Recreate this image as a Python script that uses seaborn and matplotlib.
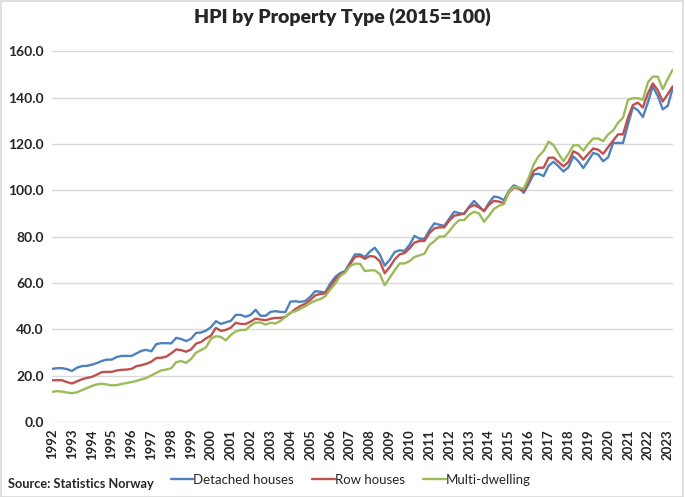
import matplotlib
matplotlib.use("Agg")
import matplotlib.pyplot as plt
from matplotlib.patches import Rectangle
import seaborn as sns
import numpy as np
import pandas as pd

# quarterly index, 1992Q1 .. 2023Q2
detached = [22.9, 23.2, 23.2, 22.8, 22.0, 23.4, 24.1, 24.2, 24.7, 25.4, 26.3, 26.9, 26.9, 28.0, 28.5, 28.5,
            28.5, 29.6, 30.7, 31.1, 30.5, 33.6, 34.0, 34.0, 33.9, 36.3, 35.8,
            34.9, 35.9, 38.4, 38.6, 39.4, 40.9, 43.5, 42.3, 43.0, 43.6, 46.2, 46.2, 45.4, 46.2, 48.4, 45.8,
            45.8, 47.5, 47.8, 47.5, 47.4, 51.9, 52.1,
            51.8, 52.2, 54.0, 56.4, 56.2, 55.9, 59.6, 62.5, 64.2, 65.1, 68.7, 72.3, 72.3, 71.2, 73.5, 75.2,
            72.3, 67.5, 69.9, 73.3, 74.1, 73.8, 76.4, 80.3, 79.1, 79.0, 82.7, 85.7,
            85.1, 84.6, 87.7, 90.7, 90.1, 89.7, 92.9, 95.4, 93.1, 90.9, 94.6, 97.3, 96.9, 95.7, 99.7, 102.1,
            101.1, 98.9, 102.7, 106.9, 107.1, 106.1,
            110.5, 112.3, 110.3, 108.1, 109.9, 114.6, 112.5, 109.6, 112.8, 116.1, 115.4, 112.5, 114.2, 120.4,
            120.4, 120.4, 128.4, 135.9, 134.5, 131.6, 137.8, 144.8, 140.7, 134.9, 136.4, 143.9]
row = [18.0, 18.0, 18.0, 17.2, 16.6, 17.5, 18.4, 19.0, 19.4, 20.4, 21.5, 21.6, 21.6, 22.2, 22.5, 22.6,
       22.9, 24.1, 24.5, 25.1, 26.0, 27.6, 27.7, 28.2, 29.6, 31.3, 31.0,
       30.3, 31.3, 33.8, 34.5, 36.1, 37.2, 40.6, 39.3, 39.7, 40.7, 42.8, 42.3, 42.3, 43.3, 44.6, 44.2,
       43.9, 44.5, 44.9, 44.9, 45.4, 47.0, 48.7,
       50.0, 51.0, 52.6, 54.6, 55.2, 55.5, 58.1, 61.3, 63.6, 64.5, 68.0, 71.2, 71.6, 70.4, 71.6, 71.3,
       69.4, 64.2, 66.8, 70.1, 72.3, 72.9, 74.9, 77.4, 78.1, 78.1, 81.5, 83.5,
       84.0, 84.0, 86.9, 89.0, 89.4, 90.0, 92.6, 93.6, 92.6, 91.1, 93.7, 95.4, 95.1, 94.4, 99.0, 101.1,
       100.7, 99.7, 104.0, 108.3, 109.7, 109.7,
       114.0, 114.1, 112.2, 110.3, 112.2, 116.8, 115.7, 113.2, 115.7, 118.0, 117.5, 115.7, 118.6, 121.4,
       124.1, 124.1, 131.3, 136.8, 137.8, 135.7, 141.7, 146.1, 143.2, 138.3, 141.4, 144.8]
multi = [13.0, 13.3, 13.1, 12.7, 12.4, 12.8, 13.7, 14.6, 15.5, 16.2, 16.5, 16.2, 15.8, 15.9, 16.4, 16.8,
         17.2, 17.7, 18.4, 19.0, 20.1, 21.2, 22.3, 22.6, 23.2, 25.8, 26.3,
         25.5, 27.2, 29.9, 31.0, 32.2, 35.9, 37.0, 36.7, 35.2, 37.5, 39.1, 39.7, 39.7, 41.7, 42.9, 42.9,
         42.0, 42.8, 42.5, 43.6, 45.4, 47.2, 47.8,
         48.8, 49.9, 51.3, 52.3, 53.0, 54.2, 57.1, 59.6, 62.9, 64.5, 67.2, 68.3, 68.3, 65.1, 65.4, 65.4,
         63.9, 59.0, 62.2, 65.4, 68.4, 68.4, 69.4, 71.2, 71.9, 72.6, 76.4, 78.0,
         80.0, 80.0, 82.3, 85.1, 87.1, 87.1, 89.4, 90.7, 90.0, 86.4, 89.0, 91.9, 93.3, 94.0, 99.3, 101.4,
         101.1, 100.7, 105.4, 111.1, 114.7, 116.9,
         121.0, 119.5, 115.8, 112.5, 115.7, 119.4, 119.4, 117.1, 120.0, 122.3, 122.3, 121.2, 124.1, 125.8,
         129.1, 131.3, 139.0, 139.7, 139.7, 139.0, 146.5, 149.0, 149.0, 143.6, 148.0, 152.0]

series_names = ["Detached houses", "Row houses", "Multi-dwelling"]
years = list(range(1992, 2024))
colors = ["#4F81BD", "#C0504D", "#9BBB59"]

quarters = [f"{1992 + i // 4}Q{i % 4 + 1}" for i in range(len(detached))]
df = pd.DataFrame({
    "idx": list(range(len(quarters))) * 3,
    "value": detached + row + multi,
    "type": [series_names[0]] * len(detached) + [series_names[1]] * len(row) + [series_names[2]] * len(multi),
})

sns.set_style("white")
plt.rcParams["font.family"] = ["Lato", "DejaVu Sans"]

fig = plt.figure(figsize=(6.85, 4.97), dpi=100)
ax = fig.add_axes([0.076, 0.151, 0.906, 0.746])

sns.lineplot(data=df, x="idx", y="value", hue="type", palette=colors, linewidth=1.7,
             legend=False, ax=ax)

ax.set_xlim(0, len(quarters) - 1)
ax.set_ylim(0, 160)
ax.set_yticks(np.arange(0, 161, 20))
ax.set_yticklabels([f"{v:.1f}" for v in np.arange(0, 161, 20)], fontsize=10, fontweight="bold")
ax.set_xticks([quarters.index(f"{y}Q1") for y in years])
ax.set_xticklabels([str(y) for y in years], rotation=90, fontsize=9.5, fontweight="bold")
ax.tick_params(axis="both", length=0, pad=6)
ax.tick_params(axis="x", pad=5)
ax.grid(axis="y", color="#D9D9D9", linewidth=1)
ax.set_axisbelow(True)
for s in ax.spines.values():
    s.set_visible(False)
ax.set_xlabel("")
ax.set_ylabel("")

fig.suptitle("HPI by Property Type (2015=100)", fontsize=14, fontweight="heavy", y=0.985)

handles = [plt.Line2D([], [], color=c, linewidth=1.7) for c in colors]
fig.legend(handles, series_names, loc="center left", bbox_to_anchor=(0.232, 0.035), ncol=3,
           frameon=False, fontsize=9.5, handlelength=1.7, handletextpad=0.0, columnspacing=1.4)
fig.text(0.012, 0.027, "Source: Statistics Norway", fontsize=9.2, fontweight="bold", va="center")

fig.patches.append(Rectangle((0.001, 0.001), 0.996, 0.996, transform=fig.transFigure,
                             fill=False, edgecolor="#D9D9D9", linewidth=1.2))

fig.savefig("out.png", dpi=100)
